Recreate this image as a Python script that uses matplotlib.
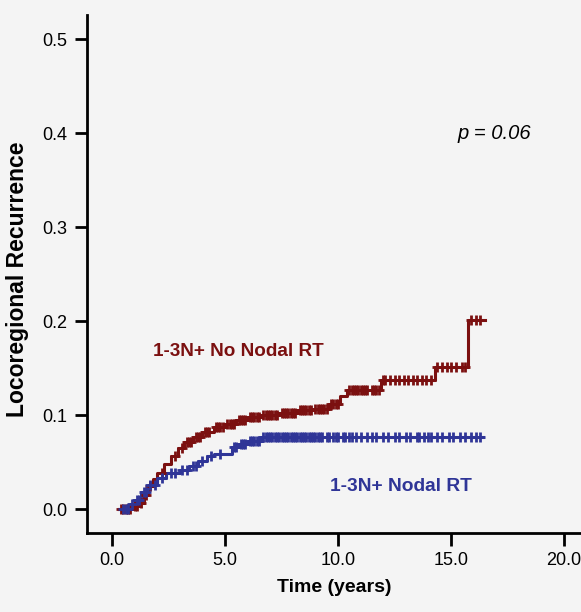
import numpy as np
import matplotlib
matplotlib.use('Agg')
import matplotlib.pyplot as plt

plt.rcParams['font.family'] = ['Liberation Sans', 'DejaVu Sans']

# step points: (time in years, cumulative incidence)
no_rt_t = [0.3, 0.9, 1.2, 1.4, 1.6, 1.8, 2.0, 2.3, 2.6, 2.9, 3.2, 3.6, 4.0, 4.5, 5.0,
           5.5, 6.0, 6.6, 7.4, 8.2, 8.9, 9.6, 10.1, 10.4, 11.9, 14.3, 15.75, 16.5]
no_rt_y = [0.0, 0.003, 0.006, 0.015, 0.025, 0.032, 0.038, 0.048, 0.057, 0.065, 0.071, 0.077,
           0.082, 0.087, 0.091, 0.095, 0.098, 0.100, 0.102, 0.105, 0.107, 0.112, 0.120, 0.127,
           0.137, 0.151, 0.201, 0.201]

rt_t = [0.3, 0.8, 1.0, 1.3, 1.6, 2.0, 2.4, 3.0, 3.4, 3.8, 4.2, 4.5, 5.3, 5.6, 6.0, 6.6, 16.4]
rt_y = [0.0, 0.005, 0.010, 0.018, 0.026, 0.033, 0.038, 0.042, 0.046, 0.051, 0.056, 0.059,
        0.066, 0.069, 0.072, 0.077, 0.077]

# censoring marks
no_rt_cens = [0.4, 0.5, 0.6, 0.7, 0.8, 1.0, 1.1, 1.3, 1.5, 1.7, 2.2, 2.8, 3.1, 3.3, 3.4,
              3.5, 3.7, 3.8, 3.9, 4.1, 4.2, 4.3, 4.6, 4.7, 4.8, 4.9, 5.1, 5.2, 5.3, 5.4,
              5.6, 5.7, 5.8, 5.9, 6.1, 6.2, 6.3, 6.4, 6.5, 6.7, 6.8, 6.9, 7.0, 7.1, 7.2,
              7.3, 7.5, 7.6, 7.7, 7.8, 7.9, 8.0, 8.1, 8.3, 8.4, 8.5, 8.6, 8.7, 8.8, 9.0,
              9.1, 9.2, 9.3, 9.4, 9.5, 9.7, 9.8, 9.9, 10.0, 10.5, 10.6, 10.7, 10.8, 10.9,
              11.0, 11.1, 11.2, 11.3, 11.5, 11.6, 11.7, 11.8, 12.0, 12.1, 12.3, 12.5, 12.7,
              12.9, 13.1, 13.3, 13.5, 13.7, 13.9, 14.1, 14.4, 14.6, 14.8, 15.0, 15.2, 15.5,
              15.6, 15.9, 16.1, 16.3]
rt_cens = [0.5, 0.6, 0.7, 0.9, 1.1, 1.2, 1.4, 1.5, 1.7, 1.9, 2.2, 2.6, 2.8, 3.1, 3.3,
           3.6, 3.7, 4.0, 4.4, 4.8, 5.4, 5.5, 5.7, 5.8, 5.9, 6.1, 6.2, 6.3, 6.4, 6.5,
           6.7, 6.8, 6.9, 7.0, 7.1, 7.2, 7.3, 7.4, 7.5, 7.6, 7.7, 7.8, 7.9, 8.0, 8.1,
           8.2, 8.3, 8.4, 8.5, 8.6, 8.7, 8.8, 8.9, 9.0, 9.1, 9.2, 9.3, 9.5, 9.6, 9.8,
           9.9, 10.0, 10.2, 10.3, 10.5, 10.6, 10.8, 11.0, 11.3, 11.5, 11.7, 12.0, 12.2,
           12.5, 12.7, 13.0, 13.2, 13.5, 13.6, 13.8, 14.0, 14.1, 14.4, 14.6, 14.9, 15.1,
           15.4, 15.6, 15.9, 16.1, 16.3]

red = '#7b1010'
blue = '#2f3597'
bg = '#f4f4f4'


def step_value(t, ts, ys):
    i = np.searchsorted(ts, t, side='right') - 1
    return np.asarray(ys)[np.clip(i, 0, len(ys) - 1)]


fig = plt.figure(figsize=(5.81, 6.12), dpi=100, facecolor=bg)
ax = fig.add_axes([0.1497, 0.129, 0.8503, 0.846], facecolor=bg)

ax.step(no_rt_t, no_rt_y, where='post', color=red, lw=2.2)
ax.step(rt_t, rt_y, where='post', color=blue, lw=2.2)
ax.plot(no_rt_cens, step_value(no_rt_cens, no_rt_t, no_rt_y), '+', color=red, ms=7, mew=2)
ax.plot(rt_cens, step_value(rt_cens, rt_t, rt_y), '+', color=blue, ms=7, mew=2)

ax.set_xlim(-1.106, 20.75)
ax.set_ylim(-0.0255, 0.5255)
ax.set_xticks([0, 5, 10, 15, 20])
ax.set_xticklabels(['0.0', '5.0', '10.0', '15.0', '20.0'])
ax.set_yticks([0, 0.1, 0.2, 0.3, 0.4, 0.5])
ax.set_yticklabels(['0.0', '0.1', '0.2', '0.3', '0.4', '0.5'])
ax.tick_params(direction='out', length=9, width=2, labelsize=13, pad=5, color='black')

for s in ['top', 'right']:
    ax.spines[s].set_visible(False)
for s in ['left', 'bottom']:
    ax.spines[s].set_linewidth(2)

ax.set_xlabel('Time (years)', fontsize=14, fontweight='bold', labelpad=7)
ax.set_ylabel('Locoregional Recurrence', fontsize=16.5, fontweight='bold')
ax.yaxis.set_label_coords(-0.117, 0.49)

ax.text(16.9, 0.4, 'p = 0.06', fontsize=14.5, style='italic', ha='center', va='center')
ax.text(5.6, 0.168, '1-3N+ No Nodal RT', color=red, fontsize=13.6, fontweight='bold',
        ha='center', va='center')
ax.text(12.8, 0.024, '1-3N+ Nodal RT', color=blue, fontsize=13.8, fontweight='bold',
        ha='center', va='center')

fig.savefig('out.png', dpi=100, facecolor=bg)
